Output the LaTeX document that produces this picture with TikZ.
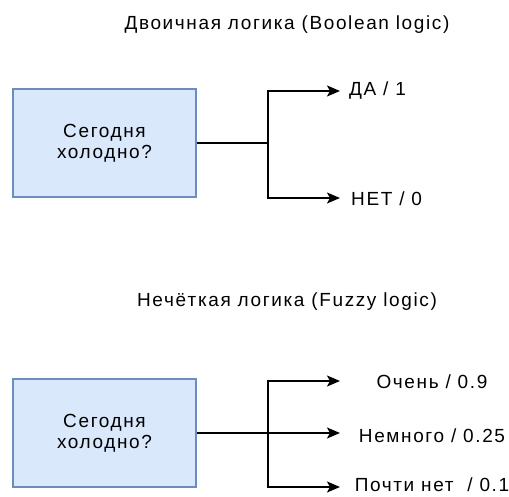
\documentclass[tikz,border=0pt]{standalone}
\usepackage{fontspec}
\setmainfont[LetterSpace=8.5]{Liberation Sans}
\usetikzlibrary{arrows.meta}
\definecolor{boxfill}{HTML}{DAE8FC}
\definecolor{boxline}{HTML}{6C8EBF}
\begin{document}
\begin{tikzpicture}[x=1pt,y=-1pt,
  question/.style={draw=boxline,fill=boxfill,line width=1.2pt,minimum width=183pt,minimum height=108pt,
    align=center,font=\fontsize{19}{21}\selectfont,inner sep=0pt},
  title/.style={font=\fontsize{19}{20}\selectfont,inner sep=0pt,anchor=base},
  answer/.style={font=\fontsize{19}{20}\selectfont,inner sep=0pt,anchor=base},
  link/.style={line width=1.6pt},
  arr/.style={link,-{Stealth[length=13pt,width=11pt,inset=3pt]}}]
\useasboundingbox (0,0) rectangle (509,496);

% Boolean logic
\node[title] (t1) at (287,29.5) {Двоичная логика (Boolean logic)};
\node[question] (q1) at (104.5,143) {Сегодня\\холодно?};
\coordinate (b1) at (268,143);
\coordinate (a1) at (340,91);
\coordinate (a2) at (340,198);
\node[answer,anchor=base west] (yes) at (349,95) {ДА / 1};
\node[answer,anchor=base west] (no) at (351,205.5) {НЕТ / 0};
\draw[link] (q1.east) -- (b1);
\draw[arr] (b1) |- (a1);
\draw[arr] (b1) |- (a2);

% Fuzzy logic
\node[title] (t2) at (287,306.5) {Нечёткая логика (Fuzzy logic)};
\node[question] (q2) at (104.5,433) {Сегодня\\холодно?};
\coordinate (b2) at (268,433);
\coordinate (c1) at (340,381);
\coordinate (c2) at (340,433);
\coordinate (c3) at (340,487);
\node[answer] (very) at (432,388) {Очень / 0.9};
\node[answer] (some) at (432,442) {Немного / 0.25};
\node[answer] (little) at (432,491) {Почти нет\ \ / 0.1};
\draw[arr] (q2.east) -- (c2);
\draw[arr] (b2) |- (c1);
\draw[arr] (b2) |- (c3);
\end{tikzpicture}
\end{document}
